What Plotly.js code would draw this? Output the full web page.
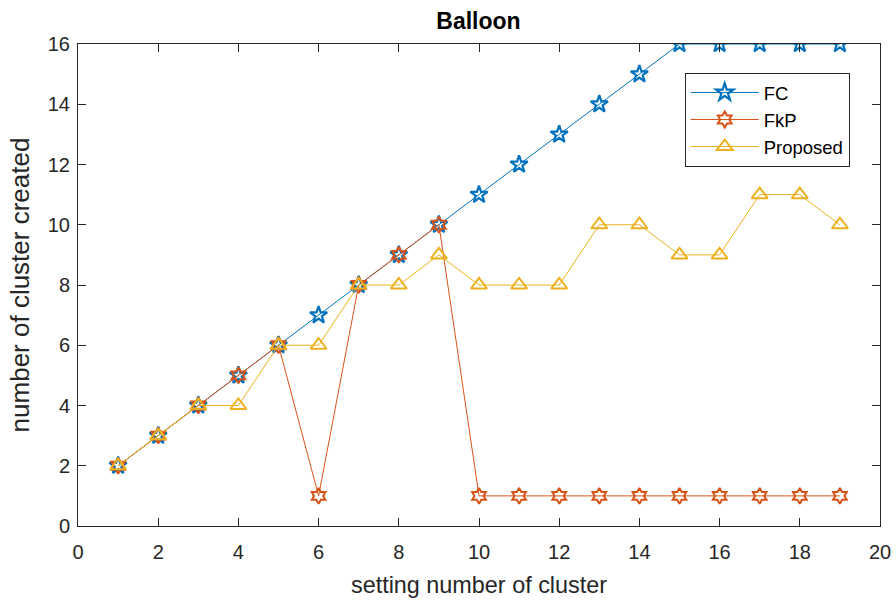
<!DOCTYPE html>
<html>
<head>
<meta charset="utf-8">
<script src="https://cdn.plot.ly/plotly-3.0.1.min.js"></script>
<style>html,body{margin:0;padding:0;background:#fff;}#chart{width:896px;height:608px;}</style>
</head>
<body>
<div id="chart"></div>
<script>
var settingNumber = [1,2,3,4,5,6,7,8,9,10,11,12,13,14,15,16,17,18,19];
var fcValues = [2,3,4,5,6,7,8,9,10,11,12,13,14,15,16,16,16,16,16];
var fkpValues = [2,3,4,5,6,1,8,9,10,1,1,1,1,1,1,1,1,1,1];
var proposedValues = [2,3,4,4,6,6,8,8,9,8,8,8,10,10,9,9,11,11,10];
var seriesNames = ['FC','FkP','Proposed'];
var xTicks = [0,2,4,6,8,10,12,14,16,18,20];
var yTicks = [0,2,4,6,8,10,12,14,16];

var font = 'Liberation Sans, Arial, sans-serif';
var traces = [
  {x: settingNumber, y: fcValues, name: seriesNames[0], mode: 'lines+markers', type: 'scatter',
   line: {color: '#0072BD', width: 1},
   marker: {symbol: 'star-open', size: 13, color: '#0072BD', line: {width: 2.2, color: '#0072BD'}}},
  {x: settingNumber, y: fkpValues, name: seriesNames[1], mode: 'lines+markers', type: 'scatter',
   line: {color: '#D95319', width: 1},
   marker: {symbol: 'hexagram-open', size: 12, color: '#D95319', line: {width: 2, color: '#D95319'}}},
  {x: settingNumber, y: proposedValues, name: seriesNames[2], mode: 'lines+markers', type: 'scatter',
   line: {color: '#EDB120', width: 1},
   marker: {symbol: 'triangle-up-open', size: 14, color: '#EDB120', line: {width: 2, color: '#EDB120'}}}
];
var axisCommon = {
  showgrid: false, zeroline: false, showline: true, linecolor: '#262626', linewidth: 1,
  mirror: 'ticks', ticks: 'inside', ticklen: 8, tickcolor: '#262626', tickwidth: 1,
  tickfont: {family: font, size: 20, color: '#262626'}
};
var layout = {
  width: 896, height: 608,
  margin: {l: 78, r: 16, t: 44, b: 82},
  paper_bgcolor: '#fff', plot_bgcolor: '#fff',
  title: {text: '<b>Balloon</b>', font: {family: font, size: 23, color: '#000'}, x: 0.534, xanchor: 'center', y: 0.965, yanchor: 'middle'},
  xaxis: Object.assign({}, axisCommon, {range: [0,20], tickvals: xTicks, ticktext: xTicks.map(String),
    ticklabelstandoff: 8,
    title: {text: 'setting number of cluster', font: {family: font, size: 23.4, color: '#262626'}, standoff: 14}}),
  yaxis: Object.assign({}, axisCommon, {range: [0,16], tickvals: yTicks, ticktext: yTicks.map(String),
    ticklabelstandoff: 3,
    title: {text: 'number of cluster created', font: {family: font, size: 26, color: '#262626'}, standoff: 10}}),
  showlegend: true,
  legend: {x: 0.7565, y: 0.94, xanchor: 'left', yanchor: 'top', bgcolor: '#fff', bordercolor: '#262626', borderwidth: 1,
    font: {family: font, size: 18.5, color: '#000'}, tracegroupgap: 0, itemwidth: 68}
};
Plotly.newPlot('chart', traces, layout, {displayModeBar: false, staticPlot: true});
</script>
</body>
</html>
